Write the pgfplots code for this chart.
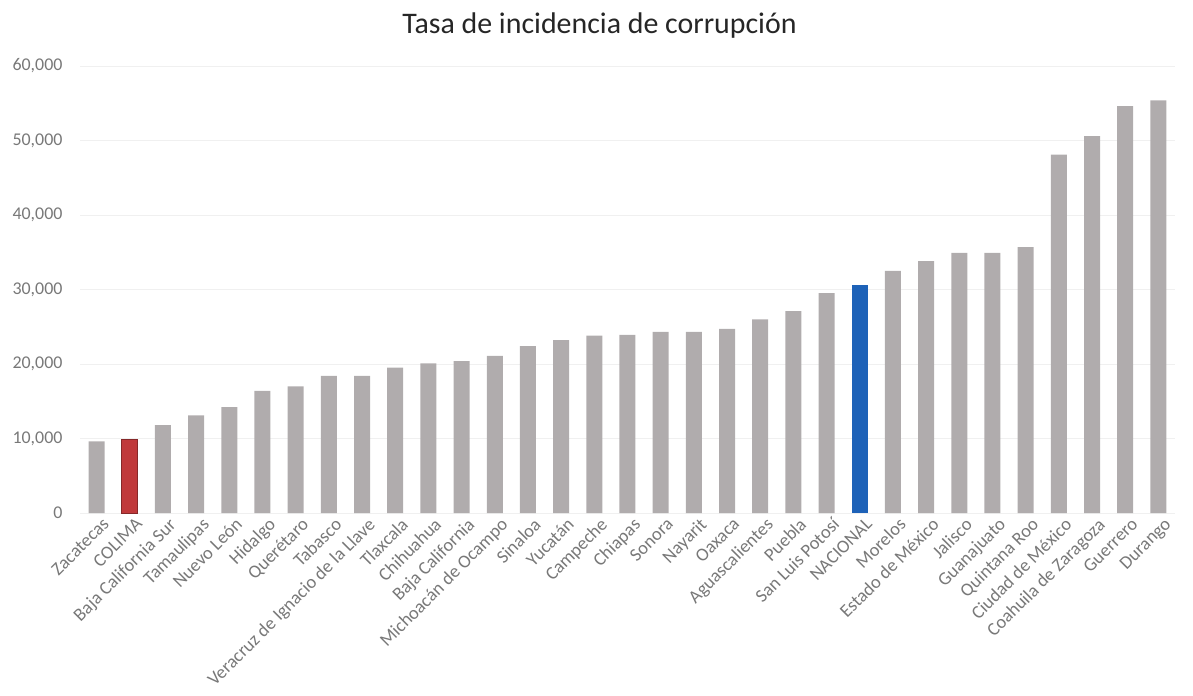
\documentclass[border=0pt]{standalone}
\usepackage{fontspec}
\setmainfont{Carlito}
\usepackage{pgfplots}
\pgfplotsset{compat=1.18}
\definecolor{bargray}{RGB}{176,172,173}
\definecolor{barred}{RGB}{192,57,59}
\definecolor{barblue}{RGB}{30,98,184}
\definecolor{txtgray}{RGB}{120,120,120}
\begin{document}
\begin{tikzpicture}
\begin{axis}[name=a,
  scale only axis, width=1095bp, height=447bp,
  ymin=0, ymax=60000, ytick={0,10000,...,60000},
  xmin=-0.5, xmax=32.5,
  ybar, bar width=16bp, bar shift=0pt,
  axis line style={draw=none},
  major tick length=0pt,
  ymajorgrids, grid style={draw=black!6, line width=0.8pt},
  /pgf/number format/assume math mode=true,
  /pgf/number format/1000 sep={,},
  scaled y ticks=false,
  yticklabel style={font=\fontsize{18}{20}\selectfont, text=txtgray, xshift=-14bp},
  xtick={0,...,32},
  xticklabels={Zacatecas,COLIMA,Baja California Sur,Tamaulipas,Nuevo León,Hidalgo,Querétaro,Tabasco,Veracruz de Ignacio de la Llave,Tlaxcala,Chihuahua,Baja California,Michoacán de Ocampo,Sinaloa,Yucatán,Campeche,Chiapas,Sonora,Nayarit,Oaxaca,Aguascalientes,Puebla,San Luis Potosí,NACIONAL,Morelos,Estado de México,Jalisco,Guanajuato,Quintana Roo,Ciudad de México,Coahuila de Zaragoza,Guerrero,Durango},
  xticklabel style={font=\fontsize{18.5}{20}\selectfont, text=txtgray, rotate=45, anchor=north east, inner sep=1bp, yshift=-5bp, xshift=2bp},
  title={Tasa de incidencia de corrupción},
  title style={font=\fontsize{30}{32}\selectfont, text=black!85, yshift=18bp, xshift=-28bp},
]
\addplot[fill=bargray, draw=none] coordinates {
(0,9600) (2,11800) (3,13100) (4,14200) (5,16400) (6,17000) (7,18400) (8,18400) (9,19500) (10,20100) (11,20400) (12,21100) (13,22400) (14,23200) (15,23800) (16,23900) (17,24300) (18,24300) (19,24700) (20,26000) (21,27100) (22,29500) (24,32500) (25,33800) (26,34900) (27,34900) (28,35700) (29,48100) (30,50600) (31,54600) (32,55400)};
\addplot[fill=barred, draw=barred!70!black, line width=0.8pt] coordinates {(1,9900)};
\addplot[fill=barblue, draw=none] coordinates {(23,30600)};
\end{axis}
\pgfresetboundingbox
\path (a.south west) ++(-80bp,-183bp) rectangle ++(1193bp,696bp);
\end{tikzpicture}
\end{document}
